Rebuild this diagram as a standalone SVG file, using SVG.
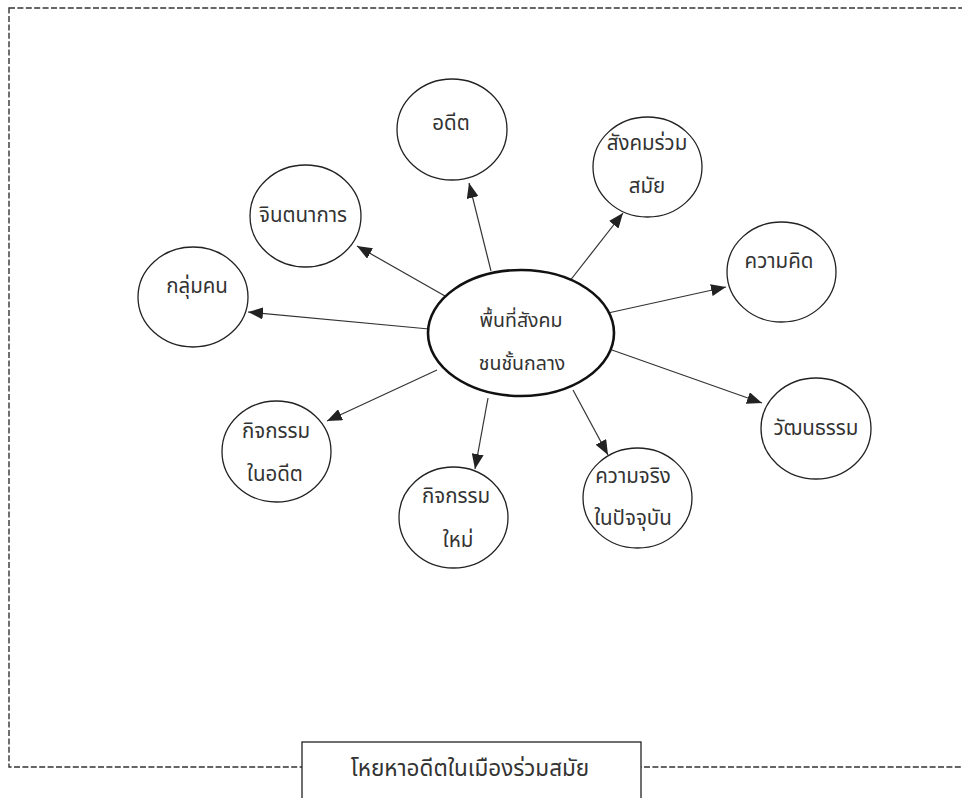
<svg xmlns="http://www.w3.org/2000/svg" width="962" height="798" viewBox="0 0 962 798">
<defs>
<marker id="ah" markerUnits="userSpaceOnUse" markerWidth="16" markerHeight="12" refX="15" refY="6" orient="auto">
<path d="M0,0 L15,6 L0,12 Z" fill="#222"/>
</marker>
<style>
.bd{fill:none;stroke:#333;stroke-width:1.4;stroke-dasharray:6 2.4}
.nd{fill:#fff;stroke:#222;stroke-width:1.3}
.ct{fill:#fff;stroke:#111;stroke-width:2.6}
.ln{stroke:#333;stroke-width:1.2;fill:none;marker-end:url(#ah)}
text{font-family:"Noto Sans Thai","Tahoma","Noto Sans","DejaVu Sans",sans-serif;font-size:20.5px;fill:#333;text-anchor:middle}
.cx{font-size:19.5px}
.cap{font-size:22.5px}
</style>
</defs>
<rect class="bd" x="9" y="8" width="970" height="759"/>
<g id="connectors">
<line class="ln" x1="491" y1="271" x2="469" y2="183"/>
<line class="ln" x1="445" y1="296" x2="357" y2="246"/>
<line class="ln" x1="429" y1="329" x2="248" y2="312"/>
<line class="ln" x1="569" y1="282" x2="623" y2="213"/>
<line class="ln" x1="608" y1="313" x2="726" y2="287"/>
<line class="ln" x1="612" y1="350" x2="762" y2="403"/>
<line class="ln" x1="573" y1="390" x2="608" y2="455"/>
<line class="ln" x1="488" y1="398" x2="475" y2="469"/>
<line class="ln" x1="437" y1="370" x2="327" y2="421"/>
</g>
<g id="center">
<ellipse class="ct" cx="521" cy="333" rx="93" ry="63"/>
<text class="cx" x="521" y="327">พื้นที่สังคม</text>
<text class="cx" x="522" y="370">ชนชั้นกลาง</text>
</g>
<g id="n-past">
<ellipse class="nd" cx="452" cy="129.5" rx="55" ry="50.5"/>
<text x="451" y="130">อดีต</text>
</g>
<g id="n-imagination">
<ellipse class="nd" cx="305.5" cy="216" rx="55.5" ry="51"/>
<text x="303" y="222">จินตนาการ</text>
</g>
<g id="n-group">
<ellipse class="nd" cx="193" cy="297" rx="55" ry="50"/>
<text x="197" y="293">กลุ่มคน</text>
</g>
<g id="n-contemporary">
<ellipse class="nd" cx="647.5" cy="167" rx="54.5" ry="50"/>
<text x="647" y="150">สังคมร่วม</text>
<text x="647" y="193">สมัย</text>
</g>
<g id="n-thought">
<ellipse class="nd" cx="781.5" cy="272" rx="54.5" ry="50"/>
<text x="779" y="268">ความคิด</text>
</g>
<g id="n-culture">
<ellipse class="nd" cx="816" cy="428.5" rx="55" ry="50.5"/>
<text x="816" y="435">วัฒนธรรม</text>
</g>
<g id="n-reality">
<ellipse class="nd" cx="637.5" cy="498" rx="54.5" ry="50"/>
<text x="633" y="483">ความจริง</text>
<text x="633" y="525">ในปัจจุบัน</text>
</g>
<g id="n-past-activity">
<ellipse class="nd" cx="276.5" cy="451.5" rx="54.5" ry="50.5"/>
<text x="276" y="438">กิจกรรม</text>
<text x="275" y="481">ในอดีต</text>
</g>
<g id="n-new-activity">
<ellipse class="nd" cx="453.5" cy="517.5" rx="54.5" ry="50.5"/>
<text x="456" y="503">กิจกรรม</text>
<text x="458" y="547">ใหม่</text>
</g>
<g id="caption">
<rect x="302" y="742" width="339" height="70" fill="#fff" stroke="#222" stroke-width="1.3"/>
<text class="cap" x="470" y="776">โหยหาอดีตในเมืองร่วมสมัย</text>
</g>
</svg>
